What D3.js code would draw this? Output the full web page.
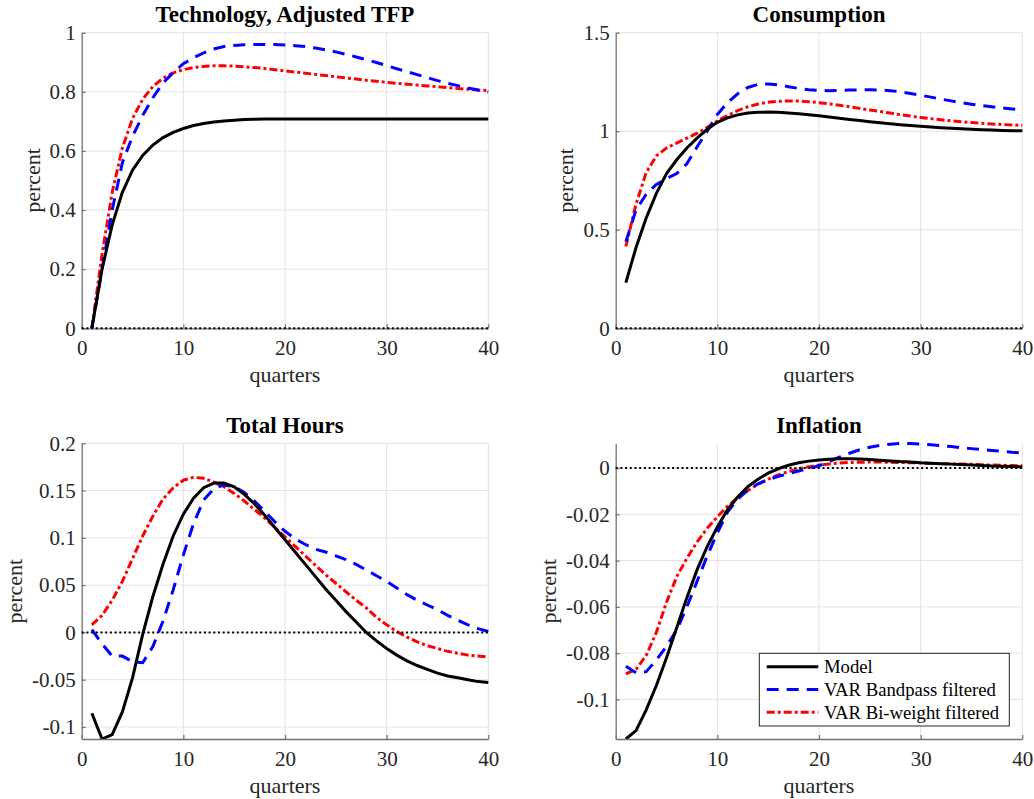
<!DOCTYPE html>
<html>
<head>
<meta charset="utf-8">
<script src="https://cdn.jsdelivr.net/npm/d3@7"></script>
<style>
  body { margin: 0; background: #fff; }
  svg text { font-family: "Liberation Serif", "Times New Roman", serif; }
</style>
</head>
<body>
<svg id="chart"></svg>
<script>
// quarters after the shock
const quarters = d3.range(1, 41);

// Technology, Adjusted TFP
const techModel = [0, 0.2, 0.35, 0.46, 0.535, 0.585, 0.62, 0.645, 0.663, 0.676,
  0.686, 0.693, 0.698, 0.701, 0.704, 0.706, 0.707, 0.708, 0.708, 0.708,
  0.708, 0.708, 0.708, 0.708, 0.708, 0.708, 0.708, 0.708, 0.708, 0.708,
  0.708, 0.708, 0.708, 0.708, 0.708, 0.708, 0.708, 0.708, 0.708, 0.708];
const techBandpass = [0, 0.2, 0.4, 0.56, 0.65, 0.72, 0.78, 0.83, 0.865, 0.895,
  0.915, 0.932, 0.945, 0.953, 0.957, 0.959, 0.96, 0.96, 0.96, 0.958,
  0.956, 0.953, 0.948, 0.942, 0.935, 0.927, 0.918, 0.909, 0.899, 0.889,
  0.878, 0.868, 0.858, 0.848, 0.838, 0.829, 0.821, 0.813, 0.806, 0.8];
const techBiweight = [0, 0.25, 0.46, 0.61, 0.71, 0.775, 0.818, 0.846, 0.864, 0.875,
  0.882, 0.886, 0.888, 0.888, 0.887, 0.885, 0.882, 0.879, 0.875, 0.871,
  0.867, 0.863, 0.859, 0.855, 0.851, 0.847, 0.843, 0.839, 0.836, 0.832,
  0.829, 0.826, 0.823, 0.82, 0.817, 0.814, 0.811, 0.809, 0.806, 0.804];

// Consumption
const consModel = [0.232, 0.41, 0.56, 0.685, 0.785, 0.855, 0.915, 0.965, 1.01, 1.045,
  1.068, 1.083, 1.092, 1.096, 1.097, 1.096, 1.093, 1.089, 1.084, 1.078,
  1.072, 1.066, 1.06, 1.054, 1.048, 1.043, 1.038, 1.033, 1.029, 1.025,
  1.021, 1.018, 1.015, 1.012, 1.01, 1.008, 1.006, 1.004, 1.003, 1.002];
const consBandpass = [0.44, 0.6, 0.68, 0.73, 0.76, 0.785, 0.835, 0.92, 1.0, 1.085,
  1.145, 1.19, 1.222, 1.238, 1.24, 1.235, 1.226, 1.217, 1.21, 1.207,
  1.206, 1.207, 1.209, 1.21, 1.21, 1.209, 1.206, 1.2, 1.192, 1.183,
  1.173, 1.163, 1.154, 1.145, 1.137, 1.13, 1.124, 1.118, 1.113, 1.108];
const consBiweight = [0.415, 0.63, 0.79, 0.875, 0.915, 0.94, 0.965, 0.99, 1.02, 1.052,
  1.08, 1.105, 1.124, 1.138, 1.147, 1.152, 1.154, 1.153, 1.15, 1.145,
  1.139, 1.132, 1.124, 1.116, 1.108, 1.1, 1.092, 1.084, 1.077, 1.07,
  1.064, 1.058, 1.053, 1.048, 1.044, 1.04, 1.037, 1.034, 1.032, 1.03];

// Total Hours
const hoursModel = [-0.0855, -0.1127, -0.108, -0.084, -0.048, -0.002, 0.038, 0.072, 0.102, 0.125,
  0.142, 0.153, 0.158, 0.158, 0.154, 0.146, 0.136, 0.124, 0.111, 0.098,
  0.085, 0.072, 0.059, 0.046, 0.034, 0.022, 0.011, 0.0, -0.009, -0.017,
  -0.024, -0.03, -0.035, -0.039, -0.043, -0.046, -0.048, -0.05, -0.052, -0.053];
const hoursBandpass = [0.003, -0.012, -0.025, -0.025, -0.031, -0.032, -0.015, 0.012, 0.045, 0.082,
  0.115, 0.14, 0.152, 0.156, 0.154, 0.148, 0.139, 0.128, 0.117, 0.107,
  0.099, 0.093, 0.088, 0.085, 0.081, 0.077, 0.072, 0.066, 0.06, 0.054,
  0.047, 0.04, 0.034, 0.029, 0.024, 0.018, 0.013, 0.008, 0.004, 0.001];
const hoursBiweight = [0.008, 0.018, 0.034, 0.054, 0.078, 0.102, 0.123, 0.141, 0.153, 0.161,
  0.164, 0.163, 0.159, 0.154, 0.147, 0.139, 0.13, 0.121, 0.111, 0.101,
  0.091, 0.081, 0.071, 0.061, 0.052, 0.043, 0.034, 0.026, 0.016, 0.008,
  0.001, -0.005, -0.01, -0.014, -0.017, -0.02, -0.022, -0.024, -0.025, -0.026];

// Inflation
const inflModel = [-0.1171, -0.1135, -0.1045, -0.094, -0.082, -0.069, -0.056, -0.044, -0.034, -0.0255,
  -0.018, -0.0125, -0.008, -0.0048, -0.0022, -0.0003, 0.0012, 0.0023, 0.003, 0.0035,
  0.0038, 0.004, 0.004, 0.0039, 0.0037, 0.0034, 0.0031, 0.0028, 0.0026, 0.0023,
  0.0021, 0.0019, 0.0017, 0.0015, 0.0013, 0.0011, 0.0009, 0.0008, 0.0007, 0.0005];
const inflBandpass = [-0.0857, -0.0885, -0.088, -0.083, -0.077, -0.07, -0.06, -0.049, -0.038, -0.028,
  -0.019, -0.0135, -0.0095, -0.0068, -0.005, -0.0036, -0.0024, -0.0013, -0.0002, 0.001,
  0.0028, 0.0047, 0.0064, 0.0079, 0.009, 0.0098, 0.0103, 0.0106, 0.0106, 0.0104,
  0.0101, 0.0097, 0.0093, 0.0088, 0.0084, 0.008, 0.0076, 0.0072, 0.0068, 0.0065];
const inflBiweight = [-0.089, -0.087, -0.081, -0.071, -0.058, -0.047, -0.039, -0.032, -0.026, -0.021,
  -0.0165, -0.0128, -0.0097, -0.007, -0.0048, -0.003, -0.0015, -0.0003, 0.0006, 0.0013,
  0.0018, 0.0022, 0.0024, 0.0025, 0.0026, 0.0026, 0.0025, 0.0024, 0.0023, 0.0022,
  0.002, 0.0019, 0.0018, 0.0017, 0.0016, 0.0014, 0.0013, 0.0012, 0.0011, 0.001];

const panelTitles = ['Technology, Adjusted TFP', 'Consumption', 'Total Hours', 'Inflation'];
const yDomains = [[0, 1], [0, 1.5], [-0.1127, 0.2], [-0.1171, 0.0107]];
const yTicks = [
  [0, 0.2, 0.4, 0.6, 0.8, 1],
  [0, 0.5, 1, 1.5],
  [-0.1, -0.05, 0, 0.05, 0.1, 0.15, 0.2],
  [-0.1, -0.08, -0.06, -0.04, -0.02, 0]
];
const xTicks = [0, 10, 20, 30, 40];
const seriesNames = ['Model', 'VAR Bandpass filtered', 'VAR Bi-weight filtered'];
const panelSeries = [
  [techModel, techBandpass, techBiweight],
  [consModel, consBandpass, consBiweight],
  [hoursModel, hoursBandpass, hoursBiweight],
  [inflModel, inflBandpass, inflBiweight]
];

// styles for the three lines
const lineStyles = [
  { color: '#000000', dash: null },
  { color: '#0000ff', dash: '12,8' },
  { color: '#ff0000', dash: '8,3,3,3' }
];

// plot boxes (left, right, top, bottom) and where the y label sits
const boxes = [
  { l: 81.7, r: 488.3, t: 32.7, b: 328.3, labelX: 34 },
  { l: 615.7, r: 1022.3, t: 32.7, b: 328.3, labelX: 567 },
  { l: 81.7, r: 488.3, t: 443.3, b: 739, labelX: 16 },
  { l: 615.7, r: 1022.3, t: 443.3, b: 739, labelX: 550 }
];

const serif = '"Liberation Serif", "Times New Roman", serif';
const width = 1034, height = 799;
const svg = d3.select('#chart')
  .attr('width', width)
  .attr('height', height)
  .attr('font-family', serif);

const fmt = v => String(+v.toFixed(3));
const axisColor = '#707070';
const textColor = '#262626';
const gridColor = '#e2e2e2';

boxes.forEach((bx, i) => {
  const x = d3.scaleLinear().domain([0, 40]).range([bx.l, bx.r]);
  const y = d3.scaleLinear().domain(yDomains[i]).range([bx.b, bx.t]);

  const g = svg.append('g').attr('class', 'panel');

  // grid
  g.append('g').selectAll('line.gx')
    .data(xTicks.filter(d => d > 0))
    .join('line')
    .attr('x1', d => x(d)).attr('x2', d => x(d))
    .attr('y1', bx.t).attr('y2', bx.b)
    .attr('stroke', gridColor).attr('stroke-width', 1);
  g.append('g').selectAll('line.gy')
    .data(yTicks[i])
    .join('line')
    .attr('x1', bx.l).attr('x2', bx.r)
    .attr('y1', d => y(d)).attr('y2', d => y(d))
    .attr('stroke', gridColor).attr('stroke-width', 1);

  // clip area for the curves
  const clipId = 'clip' + i;
  svg.append('clipPath').attr('id', clipId)
    .append('rect')
    .attr('x', bx.l).attr('y', bx.t - 2)
    .attr('width', bx.r - bx.l + 2).attr('height', bx.b - bx.t + 2);

  const line = d3.line()
    .x((d, j) => x(quarters[j]))
    .y(d => y(d));

  const curves = g.append('g').attr('clip-path', `url(#${clipId})`);
  // draw back to front: bi-weight, bandpass, model
  [2, 1, 0].forEach(s => {
    curves.append('path')
      .datum(panelSeries[i][s])
      .attr('fill', 'none')
      .attr('stroke', lineStyles[s].color)
      .attr('stroke-width', 3)
      .attr('stroke-dasharray', lineStyles[s].dash)
      .attr('d', line);
  });

  // axes
  const xAxis = d3.axisBottom(x).tickValues(xTicks).tickFormat(fmt)
    .tickSize(-4).tickSizeOuter(0).tickPadding(12);
  const yAxis = d3.axisLeft(y).tickValues(yTicks[i]).tickFormat(fmt)
    .tickSize(-4).tickSizeOuter(0).tickPadding(6);

  const gx = g.append('g').attr('transform', `translate(0,${bx.b})`).call(xAxis);
  const gy = g.append('g').attr('transform', `translate(${bx.l},0)`).call(yAxis);
  [gx, gy].forEach(a => {
    a.attr('font-family', serif).attr('font-size', 21);
    a.select('.domain').attr('stroke', axisColor).attr('stroke-width', 1.3);
    a.selectAll('.tick line').attr('stroke', axisColor).attr('stroke-width', 1.2);
    a.selectAll('.tick text')
      .attr('fill', textColor)
      .attr('font-family', serif)
      .attr('font-size', 21);
  });

  // zero reference line
  g.append('line')
    .attr('x1', x(0)).attr('x2', x(40))
    .attr('y1', y(0)).attr('y2', y(0))
    .attr('stroke', '#000').attr('stroke-width', 2)
    .attr('stroke-dasharray', '2,2.7');

  // title
  g.append('text')
    .attr('x', (bx.l + bx.r) / 2)
    .attr('y', bx.t - 10.5)
    .attr('text-anchor', 'middle')
    .attr('font-weight', 'bold')
    .attr('font-size', 23)
    .attr('fill', '#000')
    .text(panelTitles[i]);

  // axis labels
  g.append('text')
    .attr('x', (bx.l + bx.r) / 2)
    .attr('y', bx.b + 53.5)
    .attr('text-anchor', 'middle')
    .attr('font-size', 22)
    .attr('fill', textColor)
    .text('quarters');
  g.append('text')
    .attr('transform', `translate(${bx.labelX + 6},${(bx.t + bx.b) / 2}) rotate(-90)`)
    .attr('text-anchor', 'middle')
    .attr('font-size', 22)
    .attr('fill', textColor)
    .text('percent');

  // legend lives in the inflation panel
  if (i === 3) {
    const lg = g.append('g').attr('transform', 'translate(759.3,653.3)');
    lg.append('rect')
      .attr('width', 250).attr('height', 72.7)
      .attr('fill', '#fff').attr('stroke', '#262626').attr('stroke-width', 1);
    seriesNames.forEach((name, s) => {
      const cy = 13.4 + s * 22.8;
      lg.append('line')
        .attr('x1', 7.4).attr('x2', 59)
        .attr('y1', cy).attr('y2', cy)
        .attr('stroke', lineStyles[s].color)
        .attr('stroke-width', 3)
        .attr('stroke-dasharray', lineStyles[s].dash);
      lg.append('text')
        .attr('x', 64.7).attr('y', cy + 6.3)
        .attr('font-size', 18.7)
        .attr('fill', '#000')
        .text(name);
    });
  }
});
</script>
</body>
</html>
